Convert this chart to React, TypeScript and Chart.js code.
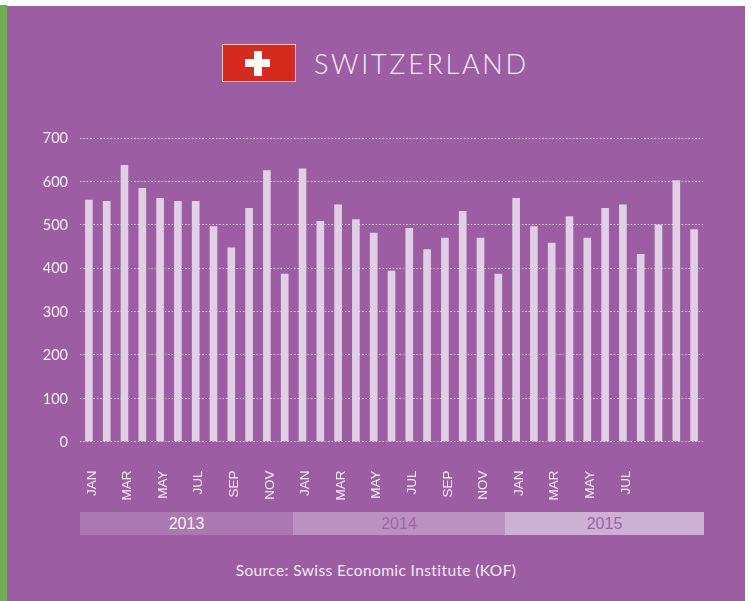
import React, { useEffect, useRef } from "react";
import { Chart, registerables } from "chart.js";

Chart.register(...registerables);

const months = ["JAN","FEB","MAR","APR","MAY","JUN","JUL","AUG","SEP","OCT","NOV","DEC"];
const categories = [
  ...months.map((m) => m + " 2013"),
  ...months.map((m) => m + " 2014"),
  ...months.slice(0, 11).map((m) => m + " 2015"),
];
const tickLabels = [
  "JAN","","MAR","","MAY","","JUL","","SEP","","NOV","",
  "JAN","","MAR","","MAY","","JUL","","SEP","","NOV","",
  "JAN","","MAR","","MAY","","JUL","","","","",
];
const values = [
  557,554,637,584,561,554,554,496,447,538,625,386,
  629,508,546,512,481,393,492,443,469,531,469,386,
  561,496,458,519,469,538,546,432,500,602,489,
];
const yTicks = [0,100,200,300,400,500,600,700];
const years = ["2013","2014","2015"];

const abs = (l: number, t: number, w: number, h: number, extra: React.CSSProperties = {}): React.CSSProperties => ({
  position: "absolute", left: l, top: t, width: w, height: h, ...extra,
});

export default function App() {
  const ref = useRef<HTMLCanvasElement>(null);
  useEffect(() => {
    const chart = new Chart(ref.current!, {
      type: "bar",
      data: {
        labels: categories,
        datasets: [{ data: values, backgroundColor: "#e1cfe5", barThickness: 7, borderWidth: 0 }],
      },
      options: {
        animation: false,
        responsive: false,
        layout: { padding: { top: 138, right: 49, left: 0, bottom: 0 } },
        plugins: { legend: { display: false }, tooltip: { enabled: false } },
        scales: {
          x: {
            afterFit: (s: any) => { s.height = 601 - 441.6; },
            grid: { display: false },
            border: { display: false },
            ticks: {
              autoSkip: false,
              minRotation: 90,
              maxRotation: 90,
              padding: 21,
              labelOffset: 3,
              color: "#f3e9f5",
              font: { family: "'Liberation Sans'", size: 13.5 },
              callback: (_v: any, i: number) => tickLabels[i],
            },
          },
          y: {
            min: 0,
            max: 700,
            afterFit: (s: any) => { s.width = 80; },
            afterBuildTicks: (s: any) => { s.ticks = yTicks.map((value) => ({ value })); },
            border: { display: false, dash: [1.2, 2.2] },
            grid: {
              color: "rgba(255,255,255,0.95)",
              lineWidth: 1,
              drawTicks: false,
            },
            ticks: {
              padding: 12,
              labelOffset: 0.6,
              color: "#f6eff7",
              font: { family: "Lato", size: 14.5 },
            },
          },
        },
      } as any,
    });
    return () => chart.destroy();
  }, []);

  const bands = [
    { l: 80, w: 213, bg: "#ab78b1", c: "#f6eff7" },
    { l: 293, w: 212, bg: "#ba91c1", c: "#a563ab" },
    { l: 505, w: 199, bg: "#cdb1d5", c: "#a060a8" },
  ];

  return (
    <div style={abs(0, 0, 752, 601, { background: "#fff", overflow: "hidden" })}>
      <div style={abs(0, 5, 7, 596, { background: "#6fad51" })} />
      <div style={abs(7, 6, 738, 595, { background: "#9d5da3" })} />
      <div style={abs(222, 44, 74, 38, { background: "#d62a1e", border: "1px solid #f0c4c4", boxSizing: "border-box" })} />
      <div style={abs(245, 59, 25, 8, { background: "#fff" })} />
      <div style={abs(253.5, 51, 8, 25, { background: "#fff" })} />
      <div style={{ position: "absolute", left: 314, top: 46, fontFamily: "Lato", fontWeight: 300, fontSize: 27, letterSpacing: 2.7, color: "#f6eff7", lineHeight: "36px", whiteSpace: "nowrap" }}>SWITZERLAND</div>
      {years.map((y, i) => (
        <div key={y} style={abs(bands[i].l, 512, bands[i].w, 23, { background: bands[i].bg, color: bands[i].c, fontFamily: "'Liberation Sans'", fontSize: 16, lineHeight: "23px", textAlign: "center" })}>{y}</div>
      ))}
      <div style={{ position: "absolute", left: 0, width: 752, top: 560, paddingLeft: 0, textAlign: "center", fontFamily: "Lato", fontSize: 15.5, letterSpacing: 0.4, lineHeight: "20px", color: "#f3e9f5" }}>Source: Swiss Economic Institute (KOF)</div>
      <canvas ref={ref} width={752} height={601} style={abs(0, 0, 752, 601, { display: "block" })} />
    </div>
  );
}
